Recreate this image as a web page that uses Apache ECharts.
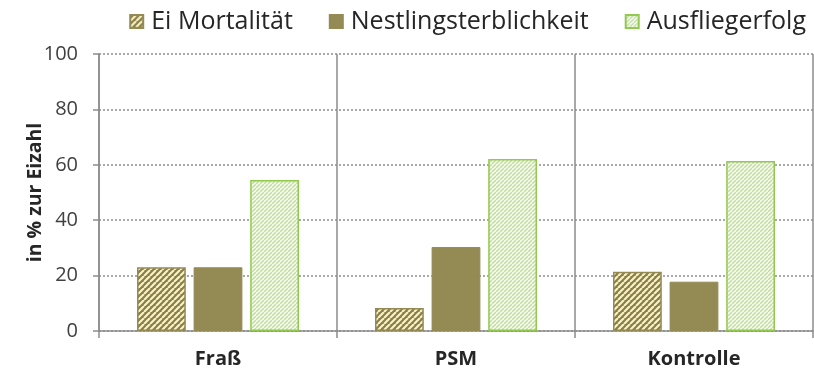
<!DOCTYPE html>
<html>
<head>
<meta charset="utf-8">
<script src="https://cdn.jsdelivr.net/npm/echarts@6/dist/echarts.min.js"></script>
<style>
  html, body { margin: 0; padding: 0; background: #fff; }
  #chart { width: 814px; height: 375px; }
</style>
</head>
<body>
<div id="chart"></div>
<script>
// Nest outcome per treatment, in percent of egg count
const categories = ['Fraß', 'PSM', 'Kontrolle'];
const seriesNames = ['Ei Mortalität', 'Nestlingsterblichkeit', 'Ausfliegerfolg'];
const eiMortalitaet = [23, 8.3, 21.4];
const nestlingsterblichkeit = [23, 30.3, 17.8];
const ausfliegerfolg = [54.5, 62.1, 61.4];
const yTicks = [0, 20, 40, 60, 80, 100];

// Diagonal stripe fill built on a small canvas tile
function stripes(bg, fg, period, lineW) {
  const c = document.createElement('canvas');
  c.width = period; c.height = period;
  const ctx = c.getContext('2d');
  ctx.fillStyle = bg;
  ctx.fillRect(0, 0, period, period);
  ctx.strokeStyle = fg;
  ctx.lineWidth = lineW;
  ctx.beginPath();
  for (let k = -1; k <= 1; k++) {
    ctx.moveTo(k * period, period);
    ctx.lineTo(k * period + period, 0);
  }
  ctx.stroke();
  return { image: c, repeat: 'repeat' };
}

const olive = '#948a54';
const green = '#92c94f';
const eiFill = stripes('#8a7d45', '#f7f2c8', 6, 2.2);
const ausFill = stripes('#ffffff', '#c5dfa4', 4, 1.6);

const chart = echarts.init(document.getElementById('chart'), null, { renderer: 'canvas' });
const font = '"Open Sans", Lato, sans-serif';

chart.setOption({
  animation: false,
  textStyle: { fontFamily: font },
  legend: {
    top: 4,
    right: 3,
    icon: 'rect',
    itemWidth: 13,
    itemHeight: 13,
    itemGap: 36,
    textStyle: { fontSize: 25, color: '#262626', fontFamily: font, padding: [0, 0, 0, 3] },
    data: seriesNames
  },
  grid: { left: 99, right: 1, top: 54, bottom: 44, containLabel: false },
  xAxis: {
    type: 'category',
    data: categories,
    axisLine: { lineStyle: { color: '#8c8c8c', width: 1.5 } },
    axisTick: { show: true, length: 7, lineStyle: { color: '#8c8c8c', width: 1.5 } },
    axisLabel: { fontSize: 20, fontWeight: 'bold', color: '#262626', margin: 18, fontFamily: font },
    splitLine: { show: true, lineStyle: { color: '#8c8c8c', width: 1.5 } }
  },
  yAxis: {
    type: 'value',
    min: 0, max: 100, interval: 20,
    name: 'in % zur Eizahl',
    nameLocation: 'middle',
    nameGap: 54,
    nameMoveOverlap: false,
    nameTextStyle: { fontSize: 19.5, fontWeight: 'bold', color: '#262626', fontFamily: font },
    axisLine: { show: true, lineStyle: { color: '#8c8c8c', width: 1.5 } },
    axisTick: { show: true, length: 6, lineStyle: { color: '#8c8c8c', width: 1.5 } },
    axisLabel: {
      fontSize: 20, color: '#404040', margin: 21, fontFamily: font,
      formatter: v => (yTicks.includes(v) ? String(v) : '')
    },
    splitLine: { show: true, lineStyle: { color: '#8c8c8c', type: [2, 2], width: 1.5 } }
  },
  series: [
    {
      name: seriesNames[0], type: 'bar', data: eiMortalitaet,
      barWidth: '20.5%', barGap: '16%',
      itemStyle: { color: eiFill, borderColor: olive, borderWidth: 1.5 }
    },
    {
      name: seriesNames[1], type: 'bar', data: nestlingsterblichkeit,
      barWidth: '20.5%', barGap: '16%',
      itemStyle: { color: olive, borderColor: olive, borderWidth: 1 }
    },
    {
      name: seriesNames[2], type: 'bar', data: ausfliegerfolg,
      barWidth: '20.5%', barGap: '16%',
      itemStyle: { color: ausFill, borderColor: green, borderWidth: 1.5 }
    }
  ]
});
</script>
</body>
</html>
